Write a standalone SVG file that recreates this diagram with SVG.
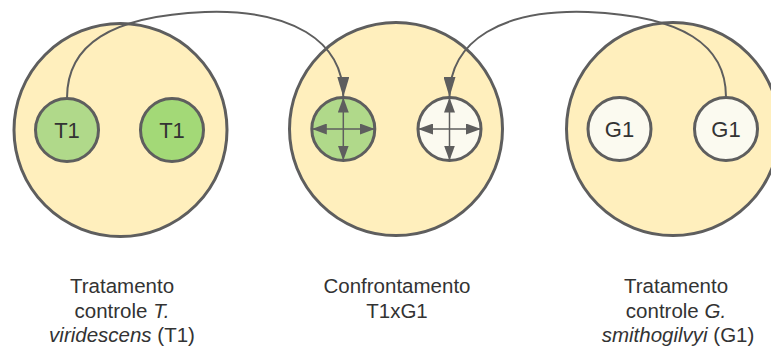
<svg xmlns="http://www.w3.org/2000/svg" width="771" height="349" viewBox="0 0 771 349">
  <style>
    .dish { fill: #ffefbd; stroke: #5e5e5e; stroke-width: 3; }
    .node { stroke: #5e5e5e; stroke-width: 3; }
    .g1 { fill: #b0d98a; }
    .g2 { fill: #a3d977; }
    .w { fill: #fbfaf0; }
    .ntext { font-family: "Liberation Sans", Arial, sans-serif; font-size: 22px; fill: #333333; text-anchor: middle; }
    .label { font-family: "Liberation Sans", Arial, sans-serif; font-size: 20.5px; fill: #333333; text-anchor: middle; }
    .conn { fill: none; stroke: #5e5e5e; stroke-width: 2; }
    .cross { fill: none; stroke: #5e5e5e; stroke-width: 1.5; }
  </style>
  <defs>
    <marker id="arrow" markerUnits="userSpaceOnUse" markerWidth="20" markerHeight="12" refX="20" refY="6" orient="auto" viewBox="0 0 20 12">
      <path d="M0,0 L20,6 L0,12 z" fill="#5e5e5e"/>
    </marker>
    <marker id="small" markerUnits="userSpaceOnUse" markerWidth="15" markerHeight="11" refX="15" refY="5.5" orient="auto-start-reverse" viewBox="0 0 15 11">
      <path d="M0,0 L15,5.5 L0,11 z" fill="#5e5e5e"/>
    </marker>
  </defs>

  <g id="dish-t1">
    <circle class="dish" cx="120.5" cy="130" r="106.5"/>
    <g id="t1-a">
      <circle class="node g1" cx="67" cy="130" r="31.5"/>
      <text class="ntext" x="67" y="137.5">T1</text>
    </g>
    <g id="t1-b">
      <circle class="node g2" cx="172" cy="130" r="31.5"/>
      <text class="ntext" x="172" y="137.5">T1</text>
    </g>
  </g>

  <g id="dish-conf">
    <circle class="dish" cx="396" cy="129" r="106.5"/>
    <g id="conf-t1">
      <circle class="node g1" cx="343.3" cy="129" r="31.5"/>
      <line class="cross" x1="311.8" y1="129" x2="374.8" y2="129" marker-start="url(#small)" marker-end="url(#small)"/>
      <line class="cross" x1="343.3" y1="97.5" x2="343.3" y2="160.5" marker-start="url(#small)" marker-end="url(#small)"/>
    </g>
    <g id="conf-g1">
      <circle class="node w" cx="449.5" cy="129" r="31.5"/>
      <line class="cross" x1="418" y1="129" x2="481" y2="129" marker-start="url(#small)" marker-end="url(#small)"/>
      <line class="cross" x1="449.5" y1="97.5" x2="449.5" y2="160.5" marker-start="url(#small)" marker-end="url(#small)"/>
    </g>
  </g>

  <g id="dish-g1">
    <circle class="dish" cx="673" cy="129" r="106.5"/>
    <g id="g1-a">
      <circle class="node w" cx="619.5" cy="129" r="31.5"/>
      <text class="ntext" x="619.5" y="136.5">G1</text>
    </g>
    <g id="g1-b">
      <circle class="node w" cx="726" cy="129" r="31.5"/>
      <text class="ntext" x="726" y="136.5">G1</text>
    </g>
  </g>

  <g id="connectors">
    <path class="conn" d="M67,98 C67,45 110,16 205,12 C290,9 343.3,40 343.3,97" marker-end="url(#arrow)"/>
    <path class="conn" d="M726,97 C726,45 683,16 588,12 C503,9 449.5,40 449.5,97" marker-end="url(#arrow)"/>
  </g>

  <g id="labels">
    <text class="label" x="122" y="293">Tratamento</text>
    <text class="label" x="122" y="317.5">controle <tspan font-style="italic">T.</tspan></text>
    <text class="label" x="122" y="342"><tspan font-style="italic">viridescens</tspan> (T1)</text>
    <text class="label" x="397" y="293">Confrontamento</text>
    <text class="label" x="397" y="317.5">T1xG1</text>
    <text class="label" x="676" y="293">Tratamento</text>
    <text class="label" x="676" y="317.5">controle <tspan font-style="italic">G.</tspan></text>
    <text class="label" x="678" y="342"><tspan font-style="italic">smithogilvyi</tspan> (G1)</text>
  </g>
</svg>
